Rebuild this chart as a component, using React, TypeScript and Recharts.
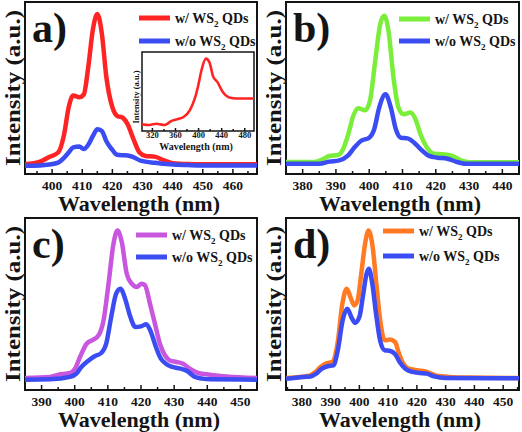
import { Line, LineChart, ReferenceArea, XAxis, YAxis } from 'recharts'

const FONT = '"Liberation Serif", "Times New Roman", serif'
const INK = '#141414'
const BLUE = '#3b4cf2'

// a) red, with inset
const nmA = [391, 396, 399, 402, 404, 405.5, 407, 409, 410.5, 412, 413.5, 415, 416.5, 418, 420, 421.5, 423.5, 425, 427, 429, 431, 434, 437, 440, 445, 450, 468]
const withA = [5.7, 7.2, 9.9, 12.5, 23.2, 38.8, 45.6, 44.6, 46.2, 62.2, 83.6, 93, 81.7, 56.3, 38.8, 33.9, 32.6, 29.1, 20.3, 12.5, 10.5, 10.1, 8, 6.3, 5.8, 5.7, 5.7]
const withoutA = [4.8, 5, 5.5, 6.6, 9.5, 12.5, 15.5, 16, 14.5, 17, 22, 26, 25, 19, 14, 11.2, 10.9, 10.8, 9.8, 8, 7.2, 6.5, 6, 5.5, 5.2, 5, 5]
const ticksA = [395, 400, 405, 410, 415, 420, 425, 430, 435, 440, 445, 450, 455, 460, 465]
const labelsA = [400, 410, 420, 430, 440, 450, 460]

// inset of a)
const nmInset = [302, 315, 327, 341, 353, 364.5, 374, 385, 393.5, 399.5, 405, 412.7, 418.5, 425.5, 432.5, 441.7, 453, 466, 496]
const inset = [8.4, 7.6, 9.2, 7.6, 12.6, 15.1, 17.7, 26.5, 41.2, 58, 76.9, 91.6, 87.4, 68.5, 62.2, 49.6, 42.5, 41.2, 41.2]
const ticksInset = [320, 340, 360, 380, 400, 420, 440, 460, 480]
const labelsInset = [320, 360, 400, 440, 480]
const yTicksInset = [15, 42, 69, 96]

// b) green
const nmB = [375, 383.5, 386, 388, 390.6, 392.1, 393.7, 395.2, 396.7, 398.7, 400.2, 401.8, 403.3, 404.5, 405.8, 407.3, 408.8, 410.4, 412.4, 413.9, 415.4, 417.4, 419.5, 422.5, 425, 427.6, 430.1, 445]
const withB = [7, 7, 8.5, 10.5, 11, 14.3, 23, 33.7, 38.2, 37, 42.4, 65.7, 87, 92, 83.1, 56, 38.6, 34.7, 35.7, 31.8, 23.1, 15.3, 11.8, 11.4, 10.5, 7.9, 6.8, 6.8]
const nmB2 = [375, 385, 388, 391, 393.5, 395.5, 397.5, 400, 401.5, 403, 404.9, 406.5, 408, 409.5, 411.5, 413.5, 415.5, 418, 420.5, 423.5, 426, 429, 445]
const withoutB = [6, 6, 7.2, 7.9, 10.5, 15.3, 19.2, 21.1, 26, 38.6, 46.3, 38.6, 26, 21.1, 20.7, 18.2, 14.3, 10.5, 9.5, 8.9, 7.2, 6, 6]
const ticksB = [375, 380, 385, 390, 395, 400, 405, 410, 415, 420, 425, 430, 435, 440, 445]
const labelsB = [380, 390, 400, 410, 420, 430, 440]

// c) magenta
const nmC = [385, 392.6, 395.1, 398.6, 400.1, 401.6, 403.6, 405.6, 407.2, 408.7, 410.2, 411.7, 412.9, 414.2, 415.7, 417.2, 418.7, 420.2, 421.2, 422.7, 424.2, 425.7, 427.2, 428.7, 430.7, 432.7, 434.7, 437.2, 440.8, 445.8, 455]
const withC = [7, 7.6, 8.9, 9.9, 12.4, 19.2, 26.9, 29.3, 31.8, 40.5, 61.8, 85.1, 92.8, 86, 67.6, 61.8, 59.9, 61.8, 60.9, 50.2, 38.6, 26.9, 20.2, 17.2, 16.3, 15.3, 12.4, 9.9, 8.9, 7.9, 7]
const nmC2 = [385, 392.6, 398.6, 400.5, 402, 404, 406, 408, 409.5, 411, 412.5, 413.8, 415.2, 416.8, 418.3, 420, 421.6, 423, 424.5, 426, 427.5, 429.5, 432, 434, 436, 438.5, 441, 455]
const withoutC = [6, 6.2, 7.6, 9.5, 13.4, 16.9, 19.6, 21.5, 26.9, 42.4, 56, 58.9, 53.1, 42.4, 36.6, 37, 38.2, 33.7, 25, 18.2, 15.3, 13.4, 12.4, 10.9, 7.9, 6.6, 6.2, 6]
const ticksC = [385, 390, 395, 400, 405, 410, 415, 420, 425, 430, 435, 440, 445, 450, 455]
const labelsC = [390, 400, 410, 420, 430, 440, 450]

// d) orange
const nmD = [374.5, 380.6, 382.9, 384.7, 386.5, 388.2, 390.6, 392.4, 394.1, 395.6, 397.1, 398.2, 399.4, 400.6, 402, 403.2, 404.7, 405.9, 407.4, 408.8, 410.6, 412.4, 413.8, 415.3, 417.1, 420.6, 423.5, 426.5, 431.2, 438.2, 455.5]
const withD = [7, 7.9, 8.5, 10.5, 13.4, 15.3, 16.3, 26.9, 50.2, 58.9, 53.1, 49.2, 52.1, 66.7, 85.1, 92.8, 82.2, 61.8, 38.6, 28.9, 29.3, 27.9, 21.1, 15.3, 12.4, 11.4, 10.5, 8.5, 7.6, 7.2, 7]
const nmD2 = [374.5, 380.6, 383, 385, 387, 389, 391, 392.5, 394.2, 395.8, 397.2, 398.5, 400, 401.2, 402.5, 403.3, 404.5, 405.8, 407.2, 408.8, 410.8, 412.5, 414, 416, 418.5, 421, 423.5, 426, 430, 455.5]
const withoutD = [6.6, 7.6, 7.9, 9.5, 12.4, 13.8, 14.3, 23.1, 40.5, 47.3, 42.4, 39, 42.4, 54.1, 67.6, 70.5, 61.8, 44.4, 28.9, 23.1, 22.7, 20.7, 16.3, 12.4, 10.5, 9.9, 9.5, 7.9, 7, 6.8]
const ticksD = [375, 380, 385, 390, 395, 400, 405, 410, 415, 420, 425, 430, 435, 440, 445, 450, 455]
const labelsD = [380, 390, 400, 410, 420, 430, 440, 450]

type Pt = { nm: number; v: number }
const toPoints = (nm: number[], vals: number[]): Pt[] => nm.map((n, i) => ({ nm: n, v: vals[i] }))

function makeTick(labelled: number[], fontSize: number, major: number, minor: number, dy: number) {
  return (props: any) => {
    const { x, y, payload } = props
    const isMajor = labelled.includes(payload.value)
    return (
      <g>
        <line x1={x} x2={x} y1={y} y2={y - (isMajor ? major : minor)} stroke={INK} strokeWidth={1.5} />
        {isMajor && (
          <text x={x} y={y + dy} textAnchor="middle" fontFamily={FONT} fontWeight="bold" fontSize={fontSize} fill={INK}>
            {payload.value}
          </text>
        )}
      </g>
    )
  }
}

function LegendRow({ x, y, color, text }: { x: number; y: number; color: string; text: string }) {
  return (
    <g>
      <line x1={x} x2={x + 31} y1={y} y2={y} stroke={color} strokeWidth={5} />
      <text x={x + 36} y={y + 5} fontFamily={FONT} fontWeight="bold" fontSize={14} fill={INK}>
        {text} WS
        <tspan fontSize={9} dy={4}>2</tspan>
        <tspan dy={-4}> QDs</tspan>
      </text>
    </g>
  )
}

type PanelProps = {
  left: number
  top: number
  tag: string
  color: string
  withQd: Pt[]
  withoutQd: Pt[]
  domain: [number, number]
  ticks: number[]
  labels: number[]
  right: number
  legendX: number
  legendY: [number, number]
  children?: React.ReactNode
}

function Panel({ left, top, tag, color, withQd, withoutQd, domain, ticks, labels, right, legendX, legendY, children }: PanelProps) {
  return (
    <div style={{ position: 'absolute', left, top, width: 261, height: 216 }}>
      <LineChart width={261} height={216} margin={{ top: 2, right, left: 25, bottom: 12 }}>
        <XAxis
          type="number"
          dataKey="nm"
          domain={domain}
          allowDataOverflow
          ticks={ticks}
          interval={0}
          height={30}
          tickSize={0}
          tickMargin={0}
          axisLine={false}
          tick={makeTick(labels, 13.5, 5, 3, 15.5)}
        />
        <YAxis type="number" domain={[0, 100]} hide allowDataOverflow />
        <ReferenceArea x1={domain[0]} x2={domain[1]} y1={0} y2={100} fill="none" stroke={INK} strokeWidth={2} ifOverflow="visible" />
        <Line data={withQd} dataKey="v" type="monotone" stroke={color} strokeWidth={4.5} dot={false} isAnimationActive={false} />
        <Line data={withoutQd} dataKey="v" type="monotone" stroke={BLUE} strokeWidth={4.5} dot={false} isAnimationActive={false} />
      </LineChart>
      {children}
      <svg width={261} height={216} style={{ position: 'absolute', left: 0, top: 0, pointerEvents: 'none' }}>
        <text x={32} y={42} fontFamily={FONT} fontWeight="bold" fontSize={42} fill={INK}>
          {tag}
        </text>
        <text
          transform="translate(19.5 88) rotate(-90)"
          textAnchor="middle"
          fontFamily={FONT}
          fontWeight="bold"
          fontSize={22}
          textLength={156}
          lengthAdjust="spacingAndGlyphs"
          fill={INK}
        >
          Intensity (a.u.)
        </text>
        <text x={139} y={211} textAnchor="middle" fontFamily={FONT} fontWeight="bold" fontSize={22} fill={INK}>
          Wavelength (nm)
        </text>
        <LegendRow x={legendX} y={legendY[0]} color={color} text="w/" />
        <LegendRow x={legendX} y={legendY[1]} color={BLUE} text="w/o" />
      </svg>
    </div>
  )
}

function Inset() {
  return (
    <div style={{ position: 'absolute', left: 130, top: 45, width: 128, height: 110 }}>
      <LineChart width={128} height={110} margin={{ top: 7, right: 4, left: 12, bottom: 0 }}>
        <XAxis
          type="number"
          dataKey="nm"
          domain={[302, 496]}
          allowDataOverflow
          ticks={ticksInset}
          interval={0}
          height={24}
          tickSize={0}
          tickMargin={0}
          axisLine={false}
          tick={makeTick(labelsInset, 8.5, 3, 2, 7)}
        />
        <YAxis
          type="number"
          domain={[0, 100]}
          ticks={yTicksInset}
          width={0}
          axisLine={false}
          tickSize={0}
          tick={(p: any) => <line x1={p.x} x2={p.x + 3} y1={p.y} y2={p.y} stroke={INK} strokeWidth={1.2} />}
        />
        <ReferenceArea x1={302} x2={496} y1={0} y2={100} fill="none" stroke={INK} strokeWidth={1.5} ifOverflow="visible" />
        <Line data={toPoints(nmInset, inset)} dataKey="v" type="monotone" stroke="#ff2424" strokeWidth={2.6} dot={false} isAnimationActive={false} />
      </LineChart>
      <svg width={128} height={110} style={{ position: 'absolute', left: 0, top: 0, pointerEvents: 'none' }}>
        <text transform="translate(9 52) rotate(-90)" textAnchor="middle" fontFamily={FONT} fontWeight="bold" fontSize={8.5} fill={INK}>
          Intensity (a.u.)
        </text>
        <text x={66} y={104.5} textAnchor="middle" fontFamily={FONT} fontWeight="bold" fontSize={10} fill={INK}>
          Wavelength (nm)
        </text>
      </svg>
    </div>
  )
}

export default function App() {
  return (
    <div style={{ position: 'fixed', left: 0, top: 0, width: 522, height: 432, background: '#fff', overflow: 'hidden' }}>
      <Panel
        left={0}
        top={0}
        tag="a)"
        color="#ff2424"
        withQd={toPoints(nmA, withA)}
        withoutQd={toPoints(nmA, withoutA)}
        domain={[391, 468]}
        ticks={ticksA}
        labels={labelsA}
        right={4}
        legendX={139}
        legendY={[18, 41]}
      >
        <Inset />
      </Panel>
      <Panel
        left={261}
        top={0}
        tag="b)"
        color="#7aee3a"
        withQd={toPoints(nmB, withB)}
        withoutQd={toPoints(nmB2, withoutB)}
        domain={[375, 445]}
        ticks={ticksB}
        labels={labelsB}
        right={3}
        legendX={138}
        legendY={[19, 41]}
      />
      <Panel
        left={0}
        top={216}
        tag="c)"
        color="#c956de"
        withQd={toPoints(nmC, withC)}
        withoutQd={toPoints(nmC2, withoutC)}
        domain={[385, 455]}
        ticks={ticksC}
        labels={labelsC}
        right={4}
        legendX={136}
        legendY={[19, 41]}
      />
      <Panel
        left={261}
        top={216}
        tag="d)"
        color="#ff7a22"
        withQd={toPoints(nmD, withD)}
        withoutQd={toPoints(nmD2, withoutD)}
        domain={[374.5, 455.5]}
        ticks={ticksD}
        labels={labelsD}
        right={3}
        legendX={122}
        legendY={[15, 40]}
      />
    </div>
  )
}
